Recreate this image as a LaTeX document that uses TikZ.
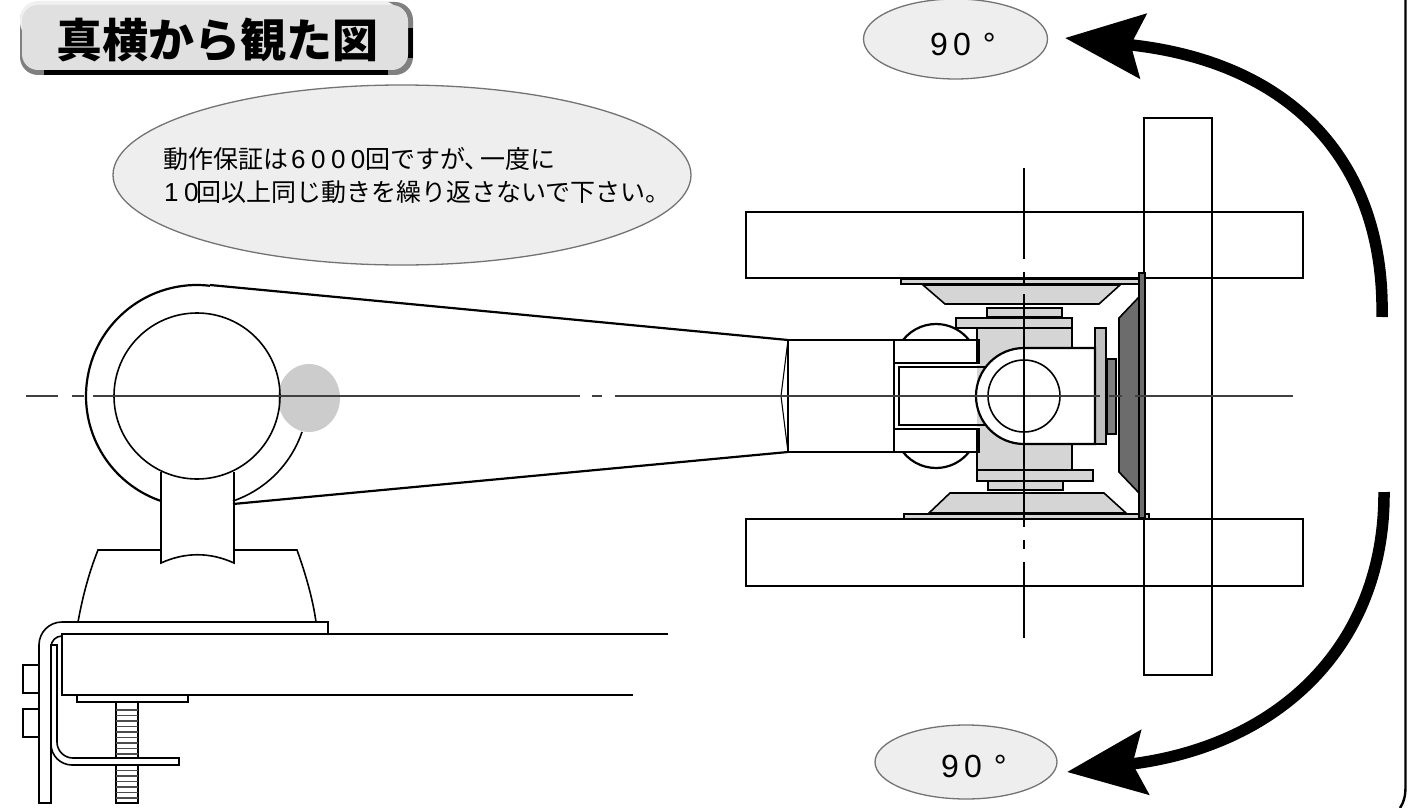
\documentclass[tikz,border=0pt]{standalone}
\usepackage{fontspec}
\setmainfont{Liberation Sans}
\newfontfamily\jpfont{Noto Sans CJK JP}
\newfontfamily\digitfont[LetterSpace=21]{Liberation Sans}
\newfontfamily\anglefont[LetterSpace=16]{Liberation Sans}
\usetikzlibrary{arrows.meta,shapes.geometric}
\definecolor{balloon}{HTML}{EEEEEE}
\definecolor{partgray}{HTML}{D5D5D5}
\definecolor{darkpart}{HTML}{6C6C6C}
\tikzset{
  thinl/.style={line width=1.1pt,black},
  medl/.style={line width=1.6pt,black},
  thickl/.style={line width=2.2pt,black},
  axisl/.style={line width=1.2pt,black!75},
  balloonnode/.style={ellipse,draw=black!55,line width=1.3pt,fill=balloon,inner sep=0pt},
  turnarrow/.style={line width=11.5pt,-{Stealth[length=78pt,width=64pt,inset=12pt]}}
}
\begin{document}
\begin{tikzpicture}[x=1pt,y=-1pt]
  \useasboundingbox (0,0) rectangle (1409,808);

  \draw [line width=2.4pt] (1405.5,0) -- (1405.5,786) .. controls (1405.5,796) and (1404,802) .. (1400,808);

  \fill [black!50,rounded corners=18pt] (20,2) rectangle (413,75);
  \fill [black!6,rounded corners=18pt] (20,1) rectangle (400,40);
  \fill [black] (44,70) rectangle (388,75);
  \fill [black] (408,28) rectangle (413,58);
  \node (title) [fill=black!12,rounded corners=16pt,minimum width=386pt,minimum height=65pt,inner sep=0pt] at (215,37.5) {};
  \node (titletext) at (217.5,40) {\fontsize{46}{46}\selectfont\jpfont\bfseries 真横から観た図};

  \node (upballoon) [balloonnode,minimum width=184pt,minimum height=80pt] at (955.5,39) {};
  \node (uplabel) [anchor=west,inner sep=0pt] at (930,44) {\fontsize{32}{32}\selectfont\anglefont 90\kern12pt°};
  \node (downballoon) [balloonnode,minimum width=182pt,minimum height=74pt] at (966,762) {};
  \node (downlabel) [anchor=west,inner sep=0pt] at (941,766) {\fontsize{32}{32}\selectfont\anglefont 90\kern12pt°};

  \node (noteballoon) [balloonnode,minimum width=578pt,minimum height=180pt] at (402,175) {};
  \node (noteone) [anchor=west,inner sep=0pt] at (163,159) {\fontsize{25}{25}\selectfont\jpfont 動作保証は{\kern3pt\digitfont\fontsize{26}{26}\selectfont 6000}回ですが、\kern-9pt 一度に};
  \node (notetwo) [anchor=west,inner sep=0pt] at (164,192) {\fontsize{25}{25}\selectfont{\digitfont\fontsize{26}{26}\selectfont 10\kern-2pt}\jpfont 回以上同じ動きを繰り返さないで下さい。};

  \coordinate (upstart) at (1382,317);
  \coordinate (uptip) at (1065,38);
  \coordinate (downstart) at (1384,492);
  \coordinate (downtip) at (1067,772);
  \draw [turnarrow] (upstart) .. controls (1385,165) and (1295,62) .. (uptip);
  \draw [turnarrow] (downstart) .. controls (1385,640) and (1285,745) .. (downtip);

  \draw [medl] (1144,118) rectangle (1212,675);
  \draw [thinl] (746,212) rectangle (1303,278);
  \draw [thinl] (746,519) rectangle (1303,586);

  \draw [medl,fill=partgray] (923,285) -- (1120,285) -- (1099,304) -- (945,304) -- cycle;
  \draw [medl,fill=partgray] (901,279) rectangle (1139,284);
  \draw [medl,fill=partgray] (950,493) -- (1104,493) -- (1126,513) -- (929,513) -- cycle;
  \draw [medl,fill=partgray] (904,514) rectangle (1149,519);
  \draw [medl,fill=partgray] (987,308) rectangle (1062,317);
  \draw [medl,fill=partgray] (956,318) rectangle (1072,328);
  \draw [medl,fill=partgray] (977,328) rectangle (1072,470);
  \draw [medl,fill=partgray] (977,470) rectangle (1093,481);
  \draw [medl,fill=partgray] (988,481) rectangle (1063,490);
  \draw [medl,fill=darkpart] (1139,297) -- (1119,318) -- (1119,472) -- (1139,493) -- cycle;
  \draw [medl,fill=darkpart] (1139,273) rectangle (1145,518);
  \draw [medl,fill=black!50] (1107,359) rectangle (1116,434);
  \draw [thickl,fill=black!25] (1095,328) rectangle (1106,444);

  \draw [thickl] (936,366) ++(218.2:42) arc[start angle=218.2,end angle=321.8,radius=42];
  \draw [thickl] (936,426) ++(141.8:42) arc[start angle=141.8,end angle=38.2,radius=42];

  \draw [thinl,fill=white] (788,340) rectangle (979,452);
  \draw [thickl] (788,340) -- (979,340);
  \draw [thickl] (788,452) -- (979,452);
  \draw [medl] (788,340) -- (788,452);
  \draw [thinl] (788,340) -- (781,396) -- (788,452);
  \draw [medl] (894,340) -- (894,452);
  \fill [black] (976,340) rectangle (980,363);
  \fill [black] (976,429) rectangle (980,452);
  \draw [thickl,fill=white] (980,363) -- (894,363) -- (894,429) -- (980,429);
  \fill [partgray] (977,365) rectangle (990,427);
  \draw [thickl] (990,367) -- (899,367) -- (899,425) -- (990,425);
  \fill [white] (900,368) rectangle (977,424);

  \draw [thickl,fill=white] (1024,348) arc[start angle=270,end angle=90,radius=48] -- (1095,444) -- (1095,348) -- cycle;
  \draw [medl] (1024,396) circle (36);

  \draw [thickl] (788,340) -- (210,285);
  \draw [thickl] (788,452) -- (233,504);
  \fill [black!20] (309,398) ellipse (31 and 34);
  \draw [thickl] (197,396) ++(276.7:111) arc[start angle=276.7,end angle=109.4,radius=111];
  \draw [medl] (197,396) ++(18.9:111) arc[start angle=18.9,end angle=71.1,radius=111];
  \draw [medl] (197,396) circle (83);
  \draw [medl] (161,472) -- (161,501);
  \draw [medl] (234,472) -- (234,501);
  \draw [thickl] (161,501) -- (161,550);
  \draw [thickl] (234,501) -- (234,550);
  \draw [medl] (161,550) -- (161,563) .. controls (185,552) and (210,552) .. (234,563) -- (234,550);

  \draw [medl] (161,550) -- (98,550) .. controls (88,575) and (82,600) .. (78,622);
  \draw [medl] (234,550) -- (297,550) .. controls (306,575) and (313,600) .. (316,622);

  \draw [thickl] (668,634) -- (62,634) -- (62,695) -- (633,695);
  \draw [medl] (77,696) -- (77,702) -- (188,702) -- (188,696);
  \draw [medl] (23,665) rectangle (39,693);
  \draw [medl] (23,709) rectangle (39,737);

  \draw [medl,fill=white] (116,702) rectangle (138,803);
  \foreach \ty in {710,715.5,...,800}
    \draw [thinl,black!70] (116,\ty) -- (138,\ty);

  \draw [medl] (328,634) -- (328,622) -- (62,622) arc[start angle=270,end angle=180,radius=23] -- (39,803) -- (51,803) -- (51,647) arc[start angle=180,end angle=270,radius=11] -- (62,634);
  \draw [medl,fill=white] (51,645) -- (57,645) -- (57,742) arc[start angle=180,end angle=90,radius=16] -- (179,758) -- (179,765) -- (72,765) arc[start angle=90,end angle=180,radius=21] -- cycle;
  \draw [thickl] (51,645) -- (51,744);
  \draw [thickl] (73,758) -- (179,758);

  \foreach \xa/\xb in {26/58,72/84,93/580,592/602,615/1100,1109/1122,1135/1293}
    \draw [axisl] (\xa,396) -- (\xb,396);
  \foreach \ya/\yb in {168/259,272/284,294/527,540/549,562/638}
    \draw [thinl] (1024,\ya) -- (1024,\yb);
\end{tikzpicture}
\end{document}
